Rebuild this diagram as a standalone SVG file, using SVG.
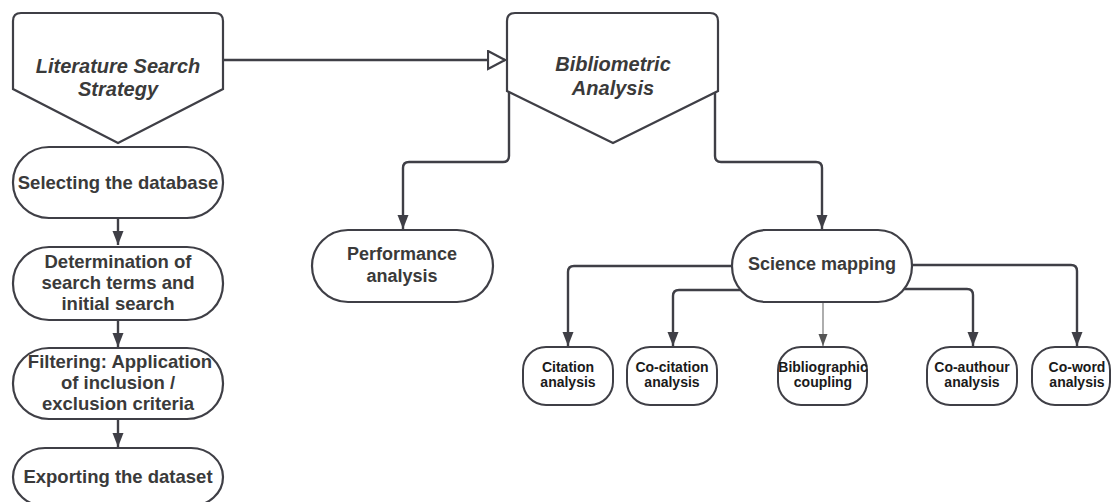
<svg xmlns="http://www.w3.org/2000/svg" width="1112" height="502" viewBox="0 0 1112 502">
<style>
.shape{fill:#fff;stroke:#3f3f46;stroke-width:2.2}
.small{fill:#fff;stroke:#3f3f46;stroke-width:2}
.conn{fill:none;stroke:#3f3f46;stroke-width:2.4}
.thin{fill:none;stroke:#777;stroke-width:1.2}
.t{font-family:"Liberation Sans",Arial,sans-serif;font-weight:bold;fill:#3a3a3a;text-anchor:middle;dominant-baseline:central}
.ti{font-size:20px;font-style:italic}
.tm{font-size:18.5px}
.tp{font-size:18px}
.ts{font-size:14px;fill:#1a1a1a}
</style>
<defs>
<marker id="arr" markerUnits="userSpaceOnUse" markerWidth="14" markerHeight="12" refX="14" refY="6" orient="auto">
<path d="M0,0.5 L14,6 L0,11.5 Z" fill="#3f3f46"/>
</marker>
<marker id="arrs" markerUnits="userSpaceOnUse" markerWidth="12" markerHeight="10" refX="12" refY="5" orient="auto">
<path d="M0,0.5 L12,5 L0,9.5 Z" fill="#555"/>
</marker>
<marker id="hollow" markerUnits="userSpaceOnUse" markerWidth="20" markerHeight="22" refX="18" refY="10" orient="auto">
<path d="M1,1 L18,10 L1,19 Z" fill="#fff" stroke="#3f3f46" stroke-width="2.2"/>
</marker>
</defs>

<g id="connectors">
<path class="conn" d="M223,60 H505" marker-end="url(#hollow)"/>
<path class="conn" d="M509,92 V156 Q509,162 503,162 H409 Q403,162 403,168 V229" marker-end="url(#arr)"/>
<path class="conn" d="M715,92 V156 Q715,162 721,162 H816 Q822,162 822,168 V229" marker-end="url(#arr)"/>
<path class="conn" d="M118,218 V245" marker-end="url(#arr)"/>
<path class="conn" d="M118,320 V347" marker-end="url(#arr)"/>
<path class="conn" d="M118,419 V447" marker-end="url(#arr)"/>
<path class="conn" d="M734,266 H574 Q568,266 568,272 V346" marker-end="url(#arr)"/>
<path class="conn" d="M742,290 H679 Q673,290 673,296 V346" marker-end="url(#arr)"/>
<path class="thin" d="M823,302 V346" marker-end="url(#arrs)"/>
<path class="conn" d="M911,265 H1071 Q1077,265 1077,271 V346" marker-end="url(#arr)"/>
<path class="conn" d="M903,289 H967 Q973,289 973,295 V346" marker-end="url(#arr)"/>
</g>

<g id="lit-search">
<path class="shape" d="M13,21 Q13,13 21,13 H215 Q223,13 223,21 V89 L118,143 L13,89 Z"/>
<text class="t ti" x="118" y="66">Literature Search</text>
<text class="t ti" x="118" y="89">Strategy</text>
</g>

<g id="biblio">
<path class="shape" d="M507,21 Q507,13 515,13 H710 Q718,13 718,21 V91 L613,143 L507,91 Z"/>
<text class="t ti" x="613" y="64">Bibliometric</text>
<text class="t ti" x="613" y="88">Analysis</text>
</g>

<g id="select-db">
<rect class="shape" x="13" y="147" width="210" height="71" rx="36" ry="35"/>
<text class="t tm" x="118" y="182">Selecting the database</text>
</g>

<g id="determination">
<rect class="shape" x="13" y="247" width="210" height="73" rx="36" ry="36"/>
<text class="t tm" x="118" y="261">Determination of</text>
<text class="t tm" x="118" y="282">search terms and</text>
<text class="t tm" x="118" y="303">initial search</text>
</g>

<g id="filtering">
<rect class="shape" x="13" y="348" width="210" height="71" rx="36" ry="35"/>
<text class="t tm" x="120" y="361">Filtering: Application</text>
<text class="t tm" x="118" y="382">of inclusion /</text>
<text class="t tm" x="118" y="403">exclusion criteria</text>
</g>

<g id="exporting">
<rect class="shape" x="13" y="448" width="210" height="58" rx="32" ry="29"/>
<text class="t tm" x="118" y="476">Exporting the dataset</text>
</g>

<g id="performance">
<rect class="shape" x="312" y="230" width="181" height="72" rx="36" ry="36"/>
<text class="t tp" x="402" y="254">Performance</text>
<text class="t tp" x="402" y="276">analysis</text>
</g>

<g id="science-mapping">
<rect class="shape" x="732" y="230" width="180" height="72" rx="34" ry="36"/>
<text class="t tp" x="822" y="264">Science mapping</text>
</g>

<g id="citation">
<rect class="small" x="523" y="347" width="90" height="58" rx="23" ry="23"/>
<text class="t ts" x="568" y="367">Citation</text>
<text class="t ts" x="568" y="382">analysis</text>
</g>

<g id="co-citation">
<rect class="small" x="627" y="347" width="90" height="58" rx="23" ry="23"/>
<text class="t ts" x="672" y="367">Co-citation</text>
<text class="t ts" x="672" y="382">analysis</text>
</g>

<g id="bibliographic">
<rect class="small" x="778" y="347" width="89" height="58" rx="23" ry="23"/>
<text class="t ts" x="823" y="367">Bibliographic</text>
<text class="t ts" x="823" y="382">coupling</text>
</g>

<g id="co-authour">
<rect class="small" x="927" y="347" width="90" height="58" rx="23" ry="23"/>
<text class="t ts" x="972" y="367">Co-authour</text>
<text class="t ts" x="972" y="382">analysis</text>
</g>

<g id="co-word">
<rect class="small" x="1032" y="347" width="78" height="58" rx="23" ry="23"/>
<text class="t ts" x="1077" y="367">Co-word</text>
<text class="t ts" x="1077" y="382">analysis</text>
</g>
</svg>
